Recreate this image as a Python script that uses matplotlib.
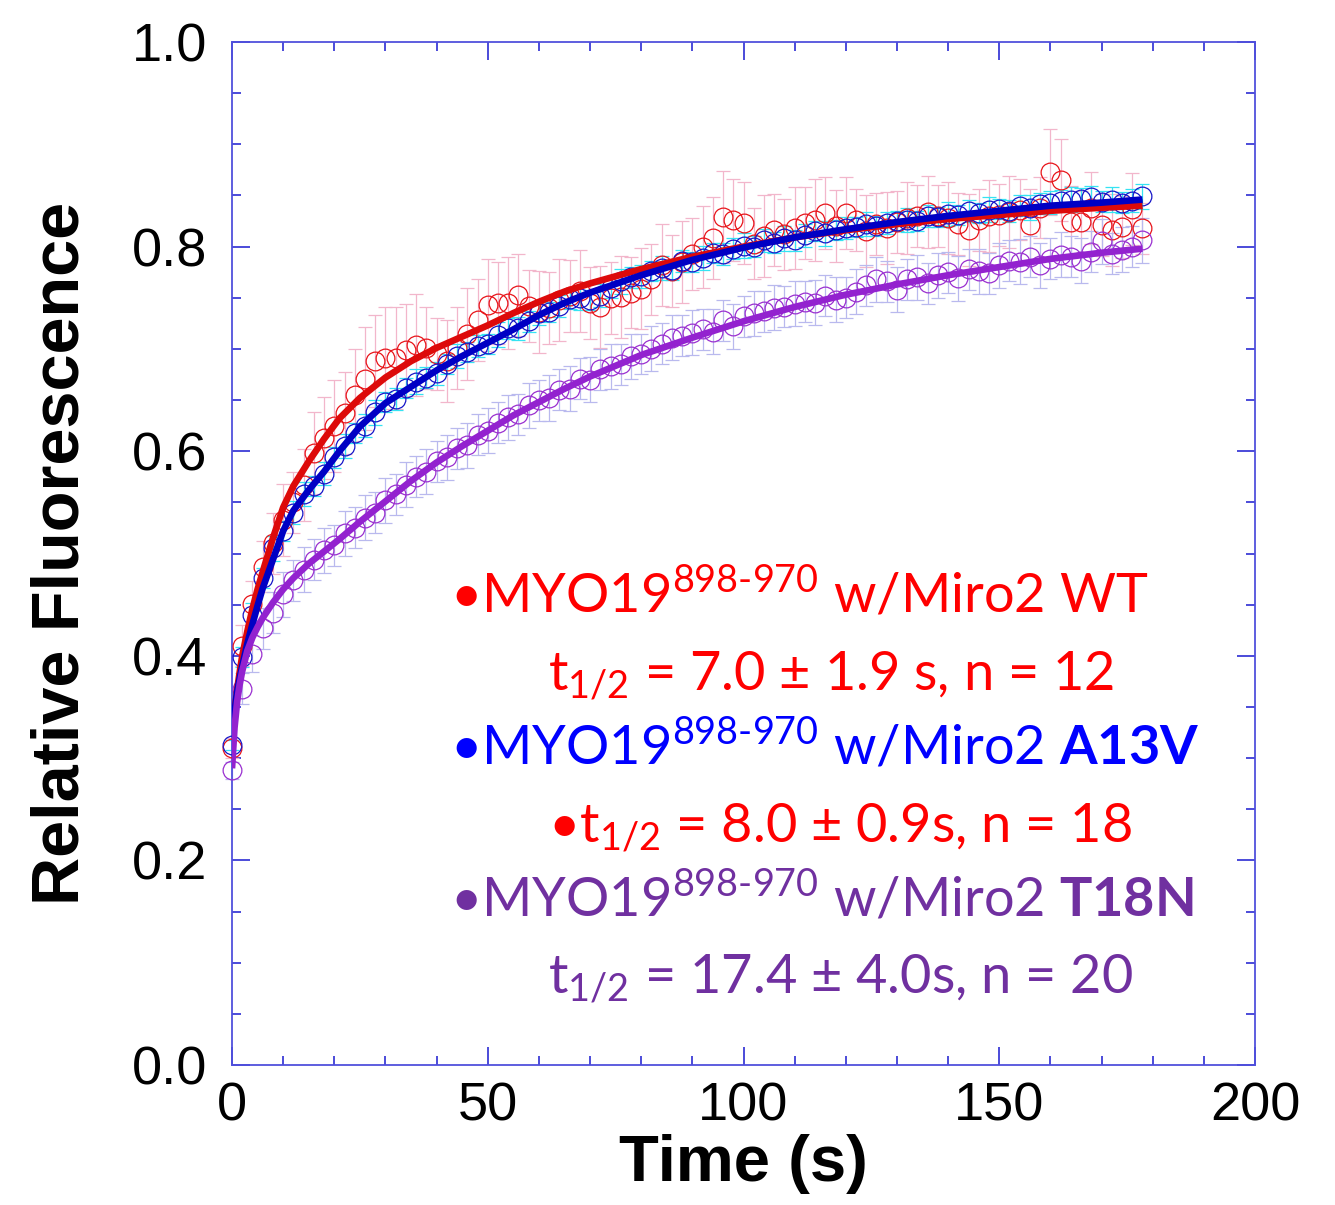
import numpy as np
import matplotlib
matplotlib.use("Agg")
import matplotlib.pyplot as plt
from matplotlib.ticker import MultipleLocator

# ---------------- data ----------------
time = np.arange(0, 180, 2)  # s, 90 samples

wt = [0.310, 0.410, 0.451, 0.487, 0.510, 0.533, 0.550, 0.567, 0.598, 0.613,
      0.625, 0.637, 0.655, 0.671, 0.688, 0.691, 0.691, 0.699, 0.704, 0.701,
      0.695, 0.688, 0.701, 0.715, 0.728, 0.743, 0.745, 0.745, 0.753, 0.742,
      0.736, 0.740, 0.748, 0.752, 0.757, 0.745, 0.741, 0.750, 0.751, 0.755,
      0.759, 0.768, 0.782, 0.776, 0.785, 0.793, 0.800, 0.808, 0.829, 0.826,
      0.823, 0.803, 0.810, 0.816, 0.812, 0.818, 0.823, 0.826, 0.833, 0.820,
      0.833, 0.826, 0.815, 0.822, 0.818, 0.824, 0.828, 0.830, 0.834, 0.830,
      0.828, 0.822, 0.816, 0.826, 0.830, 0.831, 0.834, 0.836, 0.821, 0.838,
      0.873, 0.865, 0.824, 0.824, 0.838, 0.821, 0.816, 0.819, 0.837, 0.818]
wt_err = [0.010, 0.020, 0.022, 0.025, 0.030, 0.035, 0.030, 0.035, 0.040, 0.040,
          0.045, 0.040, 0.045, 0.050, 0.045, 0.050, 0.050, 0.045, 0.050, 0.040,
          0.035, 0.040, 0.040, 0.045, 0.040, 0.045, 0.040, 0.045, 0.040, 0.035,
          0.040, 0.035, 0.040, 0.035, 0.040, 0.035, 0.040, 0.035, 0.040, 0.035,
          0.040, 0.035, 0.040, 0.035, 0.040, 0.035, 0.040, 0.040, 0.045, 0.040,
          0.040, 0.035, 0.040, 0.035, 0.035, 0.040, 0.035, 0.040, 0.035, 0.035,
          0.035, 0.030, 0.035, 0.030, 0.035, 0.030, 0.035, 0.030, 0.035, 0.030,
          0.035, 0.030, 0.035, 0.030, 0.035, 0.030, 0.035, 0.030, 0.035, 0.030,
          0.042, 0.040, 0.035, 0.030, 0.035, 0.030, 0.035, 0.030, 0.035, 0.025]

a13v = [0.313, 0.399, 0.440, 0.476, 0.505, 0.522, 0.540, 0.558, 0.566, 0.578,
        0.594, 0.605, 0.618, 0.625, 0.638, 0.648, 0.651, 0.662, 0.668, 0.672,
        0.676, 0.685, 0.693, 0.697, 0.703, 0.705, 0.714, 0.720, 0.720, 0.727,
        0.735, 0.736, 0.742, 0.749, 0.750, 0.748, 0.752, 0.760, 0.766, 0.770,
        0.771, 0.776, 0.779, 0.777, 0.786, 0.785, 0.789, 0.794, 0.793, 0.798,
        0.801, 0.800, 0.806, 0.804, 0.808, 0.806, 0.811, 0.815, 0.813, 0.816,
        0.818, 0.819, 0.822, 0.820, 0.823, 0.825, 0.826, 0.825, 0.830, 0.829,
        0.832, 0.831, 0.835, 0.833, 0.836, 0.837, 0.835, 0.840, 0.838, 0.842,
        0.843, 0.845, 0.846, 0.847, 0.848, 0.844, 0.846, 0.843, 0.845, 0.849]
a13v_err = [0.005, 0.010, 0.012, 0.010, 0.012, 0.010, 0.011, 0.012, 0.010, 0.011,
            0.010, 0.012, 0.010, 0.011, 0.012, 0.010, 0.011, 0.010, 0.012, 0.010,
            0.011, 0.010, 0.012, 0.010, 0.011, 0.010, 0.012, 0.010, 0.011, 0.010,
            0.012, 0.010, 0.011, 0.010, 0.012, 0.010, 0.011, 0.010, 0.012, 0.010,
            0.011, 0.010, 0.012, 0.010, 0.011, 0.010, 0.012, 0.010, 0.011, 0.010,
            0.012, 0.010, 0.011, 0.010, 0.012, 0.010, 0.011, 0.010, 0.012, 0.010,
            0.011, 0.010, 0.012, 0.010, 0.011, 0.010, 0.012, 0.010, 0.011, 0.010,
            0.012, 0.010, 0.011, 0.010, 0.012, 0.010, 0.011, 0.010, 0.012, 0.010,
            0.011, 0.010, 0.012, 0.010, 0.011, 0.010, 0.012, 0.010, 0.011, 0.012]

t18n = [0.288, 0.368, 0.402, 0.427, 0.442, 0.460, 0.474, 0.484, 0.494, 0.503,
        0.508, 0.520, 0.525, 0.535, 0.540, 0.552, 0.558, 0.567, 0.575, 0.580,
        0.590, 0.594, 0.603, 0.606, 0.616, 0.620, 0.628, 0.633, 0.636, 0.645,
        0.650, 0.652, 0.660, 0.661, 0.671, 0.670, 0.680, 0.683, 0.685, 0.693,
        0.695, 0.700, 0.705, 0.711, 0.713, 0.716, 0.719, 0.717, 0.728, 0.722,
        0.732, 0.735, 0.737, 0.740, 0.741, 0.744, 0.746, 0.745, 0.752, 0.748,
        0.750, 0.756, 0.762, 0.768, 0.766, 0.758, 0.768, 0.770, 0.764, 0.772,
        0.775, 0.769, 0.778, 0.776, 0.774, 0.782, 0.786, 0.785, 0.790, 0.782,
        0.788, 0.792, 0.790, 0.786, 0.795, 0.805, 0.793, 0.797, 0.800, 0.806]
t18n_err = [0.008, 0.015, 0.018, 0.020, 0.020, 0.022, 0.020, 0.022, 0.020, 0.022,
            0.020, 0.022, 0.020, 0.022, 0.020, 0.022, 0.020, 0.022, 0.020, 0.022,
            0.020, 0.022, 0.020, 0.022, 0.020, 0.022, 0.020, 0.022, 0.020, 0.022,
            0.020, 0.022, 0.020, 0.022, 0.020, 0.022, 0.020, 0.022, 0.020, 0.022,
            0.020, 0.022, 0.020, 0.022, 0.020, 0.022, 0.020, 0.022, 0.020, 0.022,
            0.020, 0.022, 0.020, 0.022, 0.020, 0.022, 0.020, 0.022, 0.020, 0.022,
            0.020, 0.022, 0.020, 0.022, 0.020, 0.022, 0.020, 0.022, 0.020, 0.022,
            0.020, 0.022, 0.020, 0.022, 0.020, 0.022, 0.020, 0.022, 0.020, 0.022,
            0.020, 0.022, 0.020, 0.022, 0.020, 0.022, 0.020, 0.022, 0.020, 0.022]

# fitted curves
fit_t = [0, 0.5, 1, 1.5, 2, 3, 4, 5, 6, 8, 10, 12, 15, 18, 21, 25, 30, 35, 40, 45,
         50, 55, 60, 65, 70, 80, 90, 100, 110, 120, 130, 140, 150, 160, 170, 178]
wt_fit = [0.310, 0.345, 0.367, 0.384, 0.400, 0.424, 0.446, 0.465, 0.482, 0.515,
          0.545, 0.566, 0.590, 0.612, 0.632, 0.652, 0.672, 0.688, 0.701, 0.712,
          0.723, 0.735, 0.746, 0.756, 0.764, 0.778, 0.790, 0.800, 0.809, 0.816,
          0.822, 0.827, 0.831, 0.835, 0.838, 0.840]
a13v_fit = [0.311, 0.345, 0.365, 0.378, 0.390, 0.412, 0.431, 0.449, 0.466, 0.494,
            0.522, 0.542, 0.562, 0.580, 0.600, 0.624, 0.647, 0.663, 0.679, 0.693,
            0.706, 0.719, 0.733, 0.745, 0.755, 0.772, 0.787, 0.799, 0.809, 0.817,
            0.824, 0.830, 0.835, 0.840, 0.843, 0.846]
t18n_fit = [0.290, 0.330, 0.355, 0.372, 0.385, 0.405, 0.418, 0.428, 0.437, 0.452,
            0.465, 0.476, 0.490, 0.502, 0.514, 0.531, 0.551, 0.571, 0.589, 0.605,
            0.620, 0.635, 0.648, 0.661, 0.673, 0.694, 0.711, 0.727, 0.741, 0.753,
            0.763, 0.772, 0.780, 0.788, 0.794, 0.798]

x_ticks = [0, 50, 100, 150, 200]
y_ticks = [0.0, 0.2, 0.4, 0.6, 0.8, 1.0]

# ---------------- style ----------------
txt_font = ['Lato', 'DejaVu Sans']
plt.rcParams['mathtext.fontset'] = 'custom'
plt.rcParams['mathtext.rm'] = 'Lato'
plt.rcParams['mathtext.it'] = 'Lato:italic'
plt.rcParams['mathtext.bf'] = 'Lato:bold'
plt.rcParams['font.family'] = ['Liberation Sans', 'DejaVu Sans']

fig = plt.figure(figsize=(13.35, 12.05), dpi=100)
ax = fig.add_axes([232 / 1335, 1 - 1065 / 1205, 1023 / 1335, 1023 / 1205])

series = [
    (wt, wt_err, wt_fit, '#f2b6cb', '#e8141a', '#dd0a0a'),
    (a13v, a13v_err, a13v_fit, '#35e3f2', '#1616c8', '#0000c4'),
    (t18n, t18n_err, t18n_fit, '#b9b9ee', '#9a30d0', '#9322cf'),
]

for vals, err, fit, ecol, mcol, lcol in series:
    ax.errorbar(time, vals, yerr=err, fmt='none', ecolor=ecol, elinewidth=0.9,
                capsize=5, capthick=0.9, zorder=2, clip_on=False)
for vals, err, fit, ecol, mcol, lcol in series:
    ax.plot(time, vals, 'o', mfc='none', mec=mcol, ms=13.5, mew=0.9,
            zorder=3, clip_on=False)
for vals, err, fit, ecol, mcol, lcol in series:
    ax.plot(fit_t, fit, '-', color=lcol, lw=4.8, zorder=4,
            solid_capstyle='butt')

ax.set_xlim(0, 200)
ax.set_ylim(0, 1.0)
ax.set_xticks(x_ticks)
ax.set_xticklabels([f"{v:d}" for v in x_ticks])
ax.set_yticks(y_ticks)
ax.set_yticklabels([f"{v:.1f}" for v in y_ticks])
ax.xaxis.set_minor_locator(MultipleLocator(10))
ax.yaxis.set_minor_locator(MultipleLocator(0.05))

tick_col = '#1a1ad0'
ax.tick_params(which='both', direction='in', top=True, right=True,
               color=tick_col, labelcolor='black')
ax.tick_params(which='major', length=13, width=1.1, labelsize=39)
ax.tick_params(which='minor', length=6.5, width=1.1)
ax.tick_params(axis='y', which='major', pad=18)
ax.tick_params(axis='x', which='major', pad=12)
for s in ax.spines.values():
    s.set_color('#5050dc')
    s.set_linewidth(1.3)

ax.set_xlabel('Time (s)', fontsize=47, fontweight='bold', labelpad=2)
ax.set_ylabel('Relative Fluorescence', fontsize=48, fontweight='bold', labelpad=28)

# ---------------- annotation text ----------------
def ax_xy(px, py):
    return (px - 232) / 1023, (1065 - py) / 1023

red = '#ff0000'
blue = '#0000ff'
purple = '#7030a0'
fs = 39
lines = [
    (450, 613, red, '•MYO19$^{\\text{898-970}}$ w/Miro2 WT'),
    (548, 690, red, 't$_{\\text{1/2}}$ = 7.0 ± 1.9 s, n = 12'),
    (450, 765, blue, '•MYO19$^{\\text{898-970}}$ w/Miro2 $\\mathbf{A13V}$'),
    (548, 842, red, '•t$_{\\text{1/2}}$ = 8.0 ± 0.9s, n = 18'),
    (450, 917, purple, '•MYO19$^{\\text{898-970}}$ w/Miro2 $\\mathbf{T18N}$'),
    (548, 993, purple, 't$_{\\text{1/2}}$ = 17.4 ± 4.0s, n = 20'),
]
for px, py, col, txt in lines:
    x, y = ax_xy(px, py)
    ax.text(x, y, txt, transform=ax.transAxes, color=col, fontsize=fs,
            family=txt_font, ha='left', va='baseline', zorder=6)

fig.savefig('out.png', dpi=100)
